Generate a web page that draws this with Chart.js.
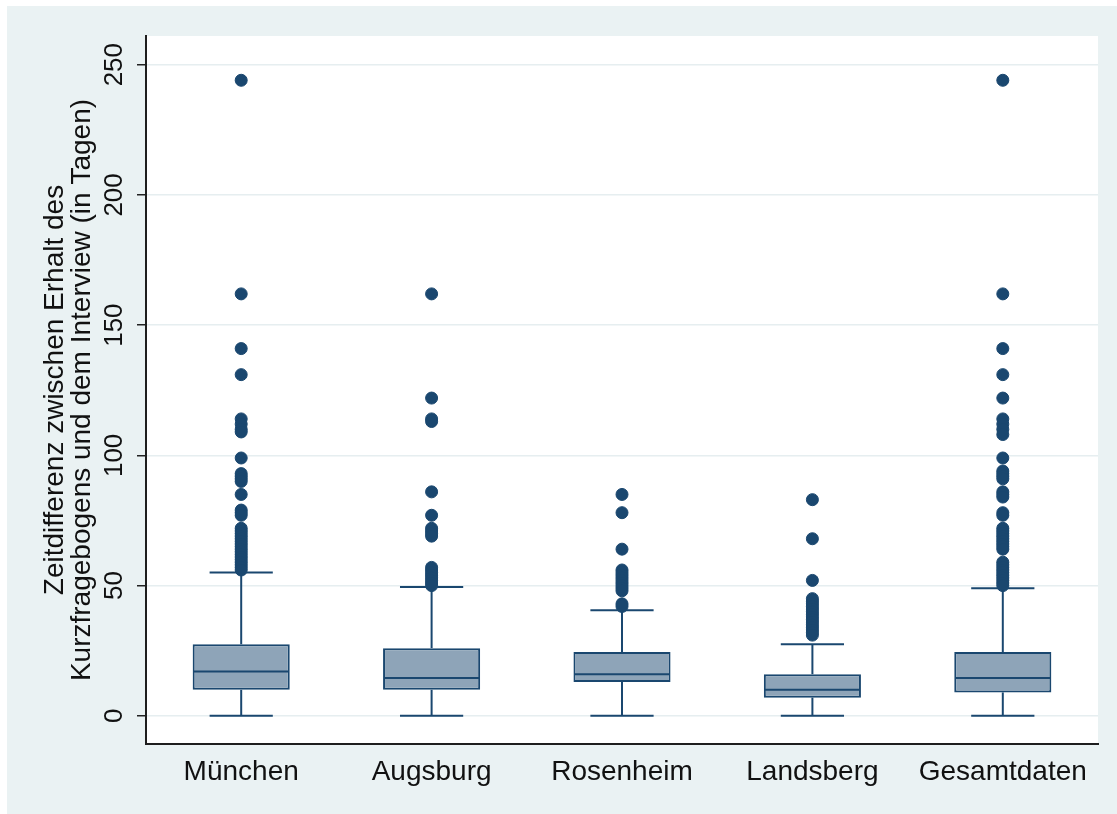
<!DOCTYPE html>
<html>
<head>
<meta charset="utf-8">
<title>Zeitdifferenz Kurzfragebogen / Interview</title>
<script src="https://cdn.jsdelivr.net/npm/chart.js@4.4.0/dist/chart.umd.js"></script>
<style>
  html, body { margin: 0; padding: 0; background: #fff; }
</style>
</head>
<body>
<canvas id="chart" width="1117" height="814"></canvas>
<script>
// values
const categories = ['München', 'Augsburg', 'Rosenheim', 'Landsberg', 'Gesamtdaten'];
const q1 = [10, 10, 13, 7, 9];
const median = [17, 14.5, 16, 10, 14.5];
const q3 = [27.5, 26, 24.5, 16, 24.5];
const whiskerLow = [0, 0, 0, 0, 0];
const whiskerHigh = [55, 49.5, 40.5, 27.5, 49];

const outliersMuenchen = [244, 162, 141, 131, 114, 112, 110, 109, 99, 93, 92, 91, 90, 85, 79, 78, 77,
  72, 71, 70, 69, 68, 67, 66, 65, 64, 63, 62, 61, 60, 59, 58, 57, 56];
const outliersAugsburg = [162, 122, 114, 113, 86, 77, 72, 71, 70, 69, 57, 56, 55, 54, 53, 52, 51, 50];
const outliersRosenheim = [85, 78, 64, 56, 55, 54, 53, 52, 51, 50, 49, 48, 43, 42];
const outliersLandsberg = [83, 68, 52, 45, 44, 43, 42, 41, 40, 39, 38, 37, 36, 35, 34, 33, 32, 31];
const outliersGesamt = [244, 162, 141, 131, 122, 114, 112, 110, 108, 99, 94, 93, 92, 91, 86, 85, 84, 78, 77,
  72, 71, 70, 69, 68, 67, 66, 65, 64, 59, 58, 57, 56, 55, 54, 53, 52, 51, 50];
const outliers = [outliersMuenchen, outliersAugsburg, outliersRosenheim, outliersLandsberg, outliersGesamt];

const yTicks = [0, 50, 100, 150, 200, 250];
const yMin = -10.8;
const yMax = 261;
const yTitleLines = ['Zeitdifferenz zwischen Erhalt des', 'Kurzfragebogens und dem Interview (in Tagen)'];

const FONT = "'Liberation Sans', Arial, sans-serif";
const NAVY = '#1a476f';

// outlier points as {x: category, y: value}
const outlierPoints = [];
outliers.forEach((list, i) => {
  list.forEach(v => outlierPoints.push({ x: categories[i], y: v }));
});

const boxParts = {
  id: 'boxParts',
  beforeDraw(chart) {
    const { ctx, chartArea: a, width, height } = chart;
    ctx.save();
    ctx.fillStyle = '#ffffff';
    ctx.fillRect(0, 0, width, height);
    ctx.fillStyle = '#eaf2f3';
    ctx.fillRect(7, 6, width - 7, height - 6);
    ctx.fillStyle = '#ffffff';
    ctx.fillRect(a.left, a.top, a.right - a.left, a.bottom - a.top);
    ctx.restore();
  },
  afterDatasetDraw(chart, args) {
    if (args.index !== 1) return;
    const { ctx } = chart;
    const xs = chart.scales.x;
    const ys = chart.scales.y;
    const step = xs.getPixelForValue(1) - xs.getPixelForValue(0);
    const cap = step * 0.166;
    const bars = chart.getDatasetMeta(1).data;
    ctx.save();
    ctx.strokeStyle = NAVY;
    ctx.lineWidth = 2;
    const line = (x1, y1, x2, y2) => {
      ctx.beginPath();
      ctx.moveTo(x1, y1);
      ctx.lineTo(x2, y2);
      ctx.stroke();
    };
    categories.forEach((c, i) => {
      const cx = xs.getPixelForValue(i);
      const yHi = ys.getPixelForValue(whiskerHigh[i]);
      const yLo = ys.getPixelForValue(whiskerLow[i]);
      line(cx, ys.getPixelForValue(q3[i]), cx, yHi);
      line(cx - cap, yHi, cx + cap, yHi);
      line(cx, ys.getPixelForValue(q1[i]), cx, yLo);
      line(cx - cap, yLo, cx + cap, yLo);
      const half = bars[i].width / 2;
      const ym = ys.getPixelForValue(median[i]);
      line(cx - half + 1, ym, cx + half - 1, ym);
    });
    ctx.restore();
  },
  afterDraw(chart) {
    const { ctx, chartArea: a } = chart;
    const ys = chart.scales.y;
    ctx.save();
    ctx.fillStyle = '#111';
    ctx.textAlign = 'center';
    ctx.textBaseline = 'alphabetic';

    // rotated y tick labels
    ctx.font = '26px ' + FONT;
    yTicks.forEach(v => {
      ctx.save();
      ctx.translate(122, ys.getPixelForValue(v));
      ctx.rotate(-Math.PI / 2);
      ctx.fillText(String(v), 0, 0);
      ctx.restore();
    });

    // y axis title, two lines
    ctx.font = '28px ' + FONT;
    const cy = (a.top + a.bottom) / 2;
    const baselines = [63, 90];
    yTitleLines.forEach((t, k) => {
      ctx.save();
      ctx.translate(baselines[k], cy);
      ctx.rotate(-Math.PI / 2);
      ctx.fillText(t, 0, 0);
      ctx.restore();
    });
    ctx.restore();
  }
};

new Chart(document.getElementById('chart'), {
  data: {
    labels: categories,
    datasets: [
      {
        type: 'line',
        label: 'Ausreißer',
        data: outlierPoints,
        showLine: false,
        pointRadius: 6,
        pointBorderWidth: 1,
        pointBackgroundColor: NAVY,
        pointBorderColor: NAVY
      },
      {
        type: 'bar',
        label: 'Interquartilsabstand',
        data: categories.map((c, i) => [q1[i], q3[i]]),
        backgroundColor: '#8ea4b8',
        borderColor: NAVY,
        borderWidth: 2,
        borderSkipped: false,
        barPercentage: 0.51,
        categoryPercentage: 1
      }
    ]
  },
  options: {
    responsive: false,
    animation: false,
    events: [],
    layout: { padding: { left: 7, top: 36, right: 19, bottom: 0 } },
    plugins: {
      legend: { display: false },
      tooltip: { enabled: false }
    },
    scales: {
      x: {
        type: 'category',
        offset: true,
        grid: { display: false, drawTicks: false },
        border: { display: true, color: '#1e1e1e', width: 2 },
        ticks: {
          font: { family: FONT, size: 28 },
          color: '#111',
          padding: 11,
          maxRotation: 0,
          autoSkip: false
        },
        afterFit(scale) { scale.height = 70; }
      },
      y: {
        type: 'linear',
        min: yMin,
        max: yMax,
        afterBuildTicks(scale) { scale.ticks = yTicks.map(v => ({ value: v })); },
        grid: {
          color: '#e6eef0',
          lineWidth: 1.5,
          drawTicks: true,
          tickLength: 9,
          tickColor: '#222',
          tickWidth: 1.5
        },
        border: { display: true, color: '#1e1e1e', width: 2 },
        ticks: { display: false },
        afterFit(scale) { scale.width = 139; }
      }
    }
  },
  plugins: [boxParts]
});
</script>
</body>
</html>
